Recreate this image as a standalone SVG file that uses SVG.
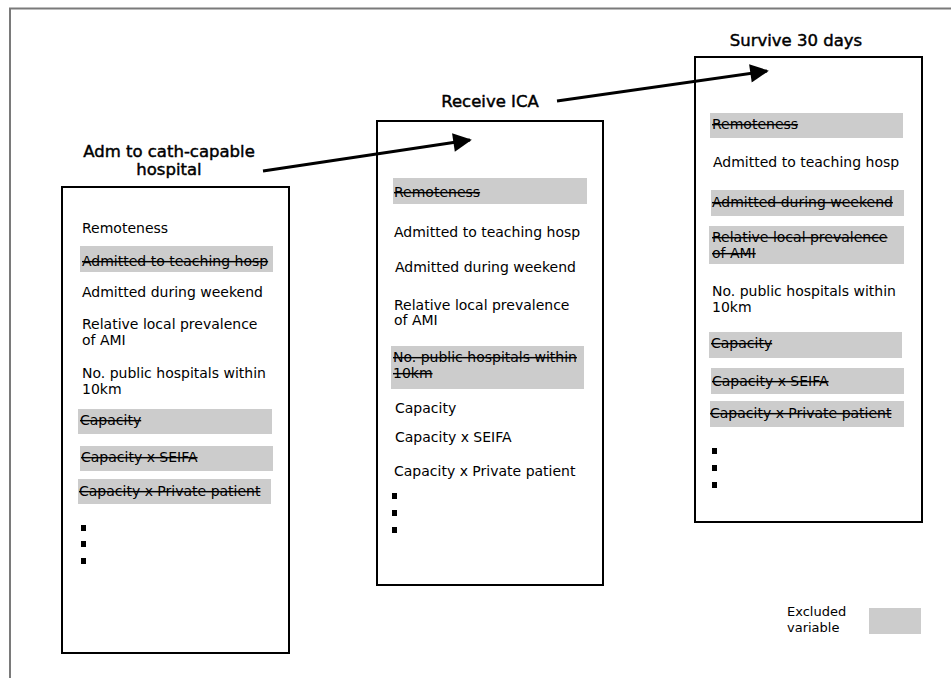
<svg xmlns="http://www.w3.org/2000/svg" width="951" height="678" viewBox="0 0 951 678">
<style>
.frame{fill:none;stroke:#7a7a7a;stroke-width:2}
.box{fill:#fff;stroke:#000;stroke-width:2}
.ex{fill:#cccccc}
.t{font-family:"DejaVu Sans",Verdana,sans-serif;font-size:14px;fill:#000}
.s{text-decoration:line-through}
.h{font-family:"DejaVu Sans",Verdana,sans-serif;font-size:16.5px;fill:#000;stroke:#000;stroke-width:0.45;text-anchor:middle}
.lg{font-family:"DejaVu Sans",Verdana,sans-serif;font-size:13px;fill:#000}
.conn{fill:none;stroke:#000;stroke-width:3}
</style>
<defs>
<marker id="ah" viewBox="0 0 10 10" refX="9" refY="5" markerWidth="7.5" markerHeight="6.2" markerUnits="strokeWidth" orient="auto">
<path d="M0,0 L10,5 L0,10 Z" fill="#000"/>
</marker>
</defs>
<rect width="951" height="678" fill="#fff"/>
<path class="frame" d="M10,678 V8.5 H951"/>

<g id="node-adm">
<rect class="box" x="62" y="187" width="227" height="466"/>
<text class="h" x="169" y="157">Adm to cath-capable</text>
<text class="h" x="169" y="175">hospital</text>
<text class="t" x="82" y="233">Remoteness</text>
<rect class="ex" x="80" y="246" width="193" height="26"/>
<text class="t s" x="82" y="266">Admitted to teaching hosp</text>
<text class="t" x="82" y="297">Admitted during weekend</text>
<text class="t" x="82" y="329">Relative local prevalence</text>
<text class="t" x="82" y="345">of AMI</text>
<text class="t" x="82" y="378">No. public hospitals within</text>
<text class="t" x="82" y="394">10km</text>
<rect class="ex" x="78" y="409" width="194" height="25"/>
<text class="t s" x="80" y="425">Capacity</text>
<rect class="ex" x="80" y="446" width="193" height="25"/>
<text class="t s" x="81" y="462">Capacity x SEIFA</text>
<rect class="ex" x="78" y="479" width="193" height="25"/>
<text class="t s" x="79" y="496">Capacity x Private patient</text>
<rect x="81" y="525" width="5" height="6" fill="#000"/>
<rect x="81" y="541" width="5" height="6" fill="#000"/>
<rect x="81" y="558" width="5" height="6" fill="#000"/>
</g>

<g id="node-ica">
<rect class="box" x="377" y="121" width="226" height="464"/>
<text class="h" x="490" y="107">Receive ICA</text>
<rect class="ex" x="393" y="178" width="194" height="26"/>
<text class="t s" x="394" y="197">Remoteness</text>
<text class="t" x="394" y="237">Admitted to teaching hosp</text>
<text class="t" x="395" y="272">Admitted during weekend</text>
<text class="t" x="394" y="310">Relative local prevalence</text>
<text class="t" x="394" y="325">of AMI</text>
<rect class="ex" x="391" y="346" width="193" height="43"/>
<text class="t s" x="393" y="362">No. public hospitals within</text>
<text class="t s" x="393" y="378">10km</text>
<text class="t" x="395" y="413">Capacity</text>
<text class="t" x="395" y="442">Capacity x SEIFA</text>
<text class="t" x="394" y="476">Capacity x Private patient</text>
<rect x="392" y="493" width="5" height="6" fill="#000"/>
<rect x="392" y="510" width="5" height="6" fill="#000"/>
<rect x="392" y="527" width="5" height="6" fill="#000"/>
</g>

<g id="node-survive">
<rect class="box" x="695" y="57" width="227" height="465"/>
<text class="h" x="796" y="46">Survive 30 days</text>
<rect class="ex" x="710" y="113" width="193" height="25"/>
<text class="t s" x="712" y="129">Remoteness</text>
<text class="t" x="713" y="167">Admitted to teaching hosp</text>
<rect class="ex" x="711" y="190" width="193" height="26"/>
<text class="t s" x="712" y="207">Admitted during weekend</text>
<rect class="ex" x="709" y="226" width="195" height="38"/>
<text class="t s" x="712" y="242">Relative local prevalence</text>
<text class="t s" x="712" y="258">of AMI</text>
<text class="t" x="712" y="296">No. public hospitals within</text>
<text class="t" x="712" y="312">10km</text>
<rect class="ex" x="709" y="332" width="193" height="26"/>
<text class="t s" x="711" y="348">Capacity</text>
<rect class="ex" x="711" y="368" width="193" height="26"/>
<text class="t s" x="712" y="386">Capacity x SEIFA</text>
<rect class="ex" x="710" y="401" width="194" height="26"/>
<text class="t s" x="710" y="418">Capacity x Private patient</text>
<rect x="712" y="448" width="5" height="6" fill="#000"/>
<rect x="712" y="465" width="5" height="6" fill="#000"/>
<rect x="712" y="482" width="5" height="6" fill="#000"/>
</g>

<g id="legend">
<text class="lg" x="787" y="616">Excluded</text>
<text class="lg" x="787" y="632">variable</text>
<rect class="ex" x="869" y="608" width="52" height="26"/>
</g>

<g id="connectors">
<line class="conn" x1="263" y1="171" x2="470" y2="140" marker-end="url(#ah)"/>
<line class="conn" x1="557" y1="101" x2="767" y2="71" marker-end="url(#ah)"/>
</g>
</svg>
